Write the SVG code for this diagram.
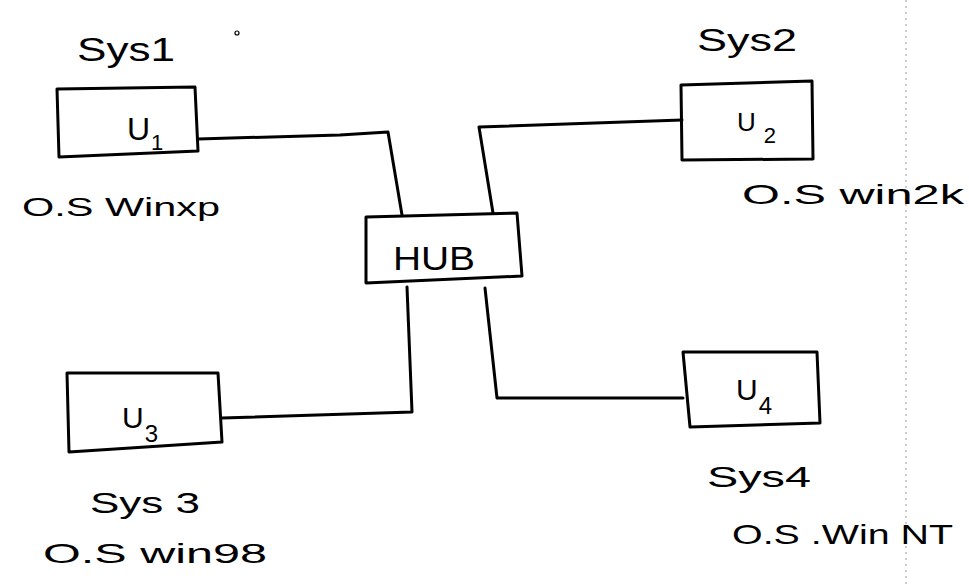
<svg xmlns="http://www.w3.org/2000/svg" width="969" height="585" viewBox="0 0 969 585">
<style>
  .box { fill: none; stroke: #000; stroke-width: 3; stroke-linejoin: round; }
  .wire { fill: none; stroke: #000; stroke-width: 3; stroke-linejoin: round; stroke-linecap: round; }
  .t { font-family: "Liberation Sans", "DejaVu Sans", sans-serif; fill: #000; }
  .scan { stroke: #999; stroke-width: 1; stroke-dasharray: 2 4; fill: none; }
</style>
<rect x="0" y="0" width="969" height="585" fill="#fff"/>
<line class="scan" x1="906" y1="0" x2="906" y2="585"/>
<circle cx="237" cy="33" r="2" fill="none" stroke="#000" stroke-width="1.2"/>

<g id="connectors">
  <polyline class="wire" points="198,139 340,135 388,132 402,215"/>
  <polyline class="wire" points="493,213 479,127 682,120"/>
  <polyline class="wire" points="222,418 412,412 407,287"/>
  <polyline class="wire" points="485,288 497,398 683,398"/>
</g>

<g id="sys1">
  <text class="t" x="77" y="61" font-size="34" textLength="98" lengthAdjust="spacingAndGlyphs">Sys1</text>
  <path class="box" d="M57,89 L195,87 L198,151 L59,157 Z"/>
  <text class="t" x="127" y="140" font-size="32">U<tspan font-size="22" dx="1" dy="10">1</tspan></text>
  <text class="t" x="22" y="216" font-size="26" textLength="198" lengthAdjust="spacingAndGlyphs">O.S Winxp</text>
</g>

<g id="hub">
  <path class="box" d="M366,217 L517,213 L522,276 L366,283 Z"/>
  <text class="t" x="393" y="270" font-size="34" textLength="82" lengthAdjust="spacingAndGlyphs">HUB</text>
</g>

<g id="sys2">
  <text class="t" x="697" y="51" font-size="32" textLength="100" lengthAdjust="spacingAndGlyphs">Sys2</text>
  <path class="box" d="M681,85 L812,81 L813,159 L682,160 Z"/>
  <text class="t" x="737" y="131" font-size="26">U<tspan font-size="22" dx="8" dy="12">2</tspan></text>
  <text class="t" x="742" y="204" font-size="28" textLength="222" lengthAdjust="spacingAndGlyphs">O.S win2k</text>
</g>

<g id="sys3">
  <path class="box" d="M67,373 L218,373 L222,442 L69,452 Z"/>
  <text class="t" x="122" y="428" font-size="30">U<tspan font-size="24" dx="1" dy="14">3</tspan></text>
  <text class="t" x="90" y="513" font-size="30" textLength="110" lengthAdjust="spacingAndGlyphs">Sys 3</text>
  <text class="t" x="43" y="563" font-size="28" textLength="224" lengthAdjust="spacingAndGlyphs">O.S win98</text>
</g>

<g id="sys4">
  <path class="box" d="M683,352 L817,352 L820,423 L690,427 Z"/>
  <text class="t" x="736" y="400" font-size="30">U<tspan font-size="24" dx="1" dy="14">4</tspan></text>
  <text class="t" x="707" y="487" font-size="30" textLength="104" lengthAdjust="spacingAndGlyphs">Sys4</text>
  <text class="t" x="732" y="544" font-size="28" textLength="221" lengthAdjust="spacingAndGlyphs">O.S .Win NT</text>
</g>
</svg>
